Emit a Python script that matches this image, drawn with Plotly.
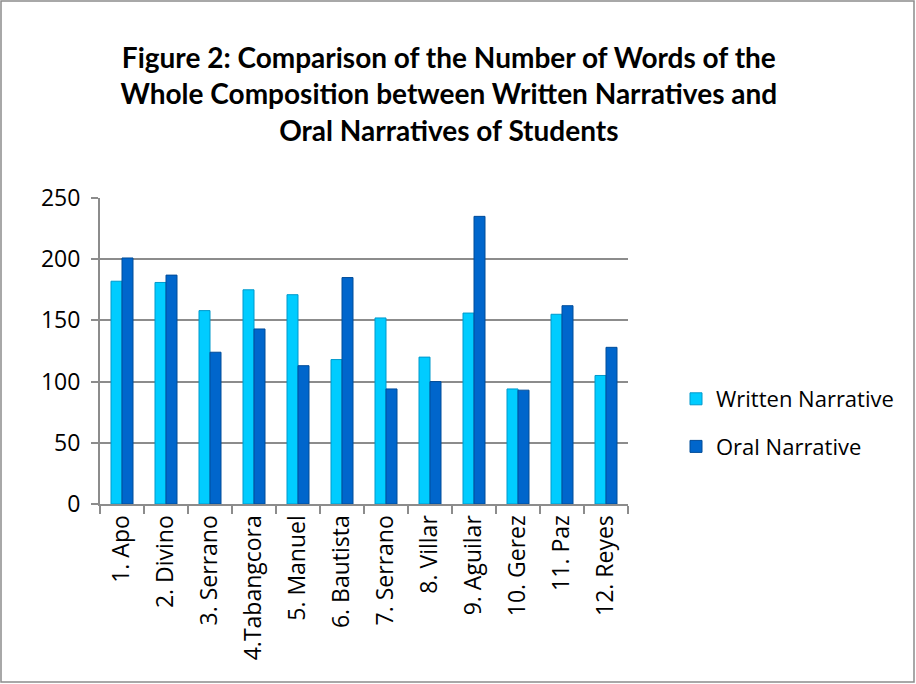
import plotly.graph_objects as go

categories = ["1. Apo", "2. Divino", "3. Serrano", "4.Tabangcora", "5. Manuel", "6. Bautista",
              "7. Serrano", "8. Villar", "9. Aguilar", "10. Gerez", "11. Paz", "12. Reyes"]
written = [182, 181, 158, 175, 171, 118, 152, 120, 156, 94, 155, 105]
oral = [201, 187, 124, 143, 113, 185, 94, 100, 235, 93, 162, 128]
y_ticks = [0, 50, 100, 150, 200, 250]

W, H = 916, 684
L, R, T, B = 100, 288, 198, 180
pw, ph = W - L - R, H - T - B

AX_FONT = "Open Sans, Lato, sans-serif"

fig = go.Figure()
fig.add_trace(go.Bar(x=categories, y=written, name="Written Narrative", legendgroup="w",
                     marker=dict(color="#00CCFF", line=dict(color="#0099CC", width=1))))
fig.add_trace(go.Bar(x=categories, y=oral, name="Oral Narrative", legendgroup="o",
                     marker=dict(color="#0066CC", line=dict(color="#004C99", width=1))))

fig.update_layout(
    width=W, height=H,
    margin=dict(l=L, r=R, t=T, b=B, autoexpand=False),
    paper_bgcolor="white", plot_bgcolor="white",
    barmode="group", bargap=0.5, bargroupgap=0.0,
    font=dict(family=AX_FONT, color="black"),
    title=dict(text="<b>Figure 2: Comparison of the Number of Words of the<br>"
                    "Whole Composition between Written Narratives and<br>"
                    "Oral Narratives of Students</b>",
               x=0.49, xanchor="center", y=1 - 68 / H, yanchor="middle",
               font=dict(size=28, family="Lato, Open Sans, sans-serif")),
    legend=dict(x=(676 - L) / pw, y=(504 - 423) / ph, xanchor="left", yanchor="middle",
                font=dict(size=22, family=AX_FONT), itemwidth=30, tracegroupgap=16,
                bgcolor="rgba(0,0,0,0)"),
    xaxis=dict(tickangle=-90, tickfont=dict(size=23), showline=True, linecolor="#8c8c8c",
               linewidth=2, ticks="outside", tickson="boundaries", ticklen=8,
               tickcolor="#8c8c8c", tickwidth=2, showgrid=False),
    yaxis=dict(range=[0, 250], tickvals=y_ticks, tickfont=dict(size=23), showline=True,
               linecolor="#8c8c8c", linewidth=2, ticks="outside", ticklen=7,
               ticklabelstandoff=6,
               tickcolor="#8c8c8c", tickwidth=2, showgrid=True, gridcolor="#8c8c8c",
               gridwidth=2, zeroline=False),
    shapes=[dict(type="rect", xref="paper", yref="paper",
                 x0=-(L - 1) / pw, x1=1 + (R - 2) / pw,
                 y0=-(B - 2) / ph, y1=1 + (T - 1) / ph,
                 line=dict(color="#8c8c8c", width=1.5), fillcolor="rgba(0,0,0,0)")],
)

fig.write_html("out.html")
